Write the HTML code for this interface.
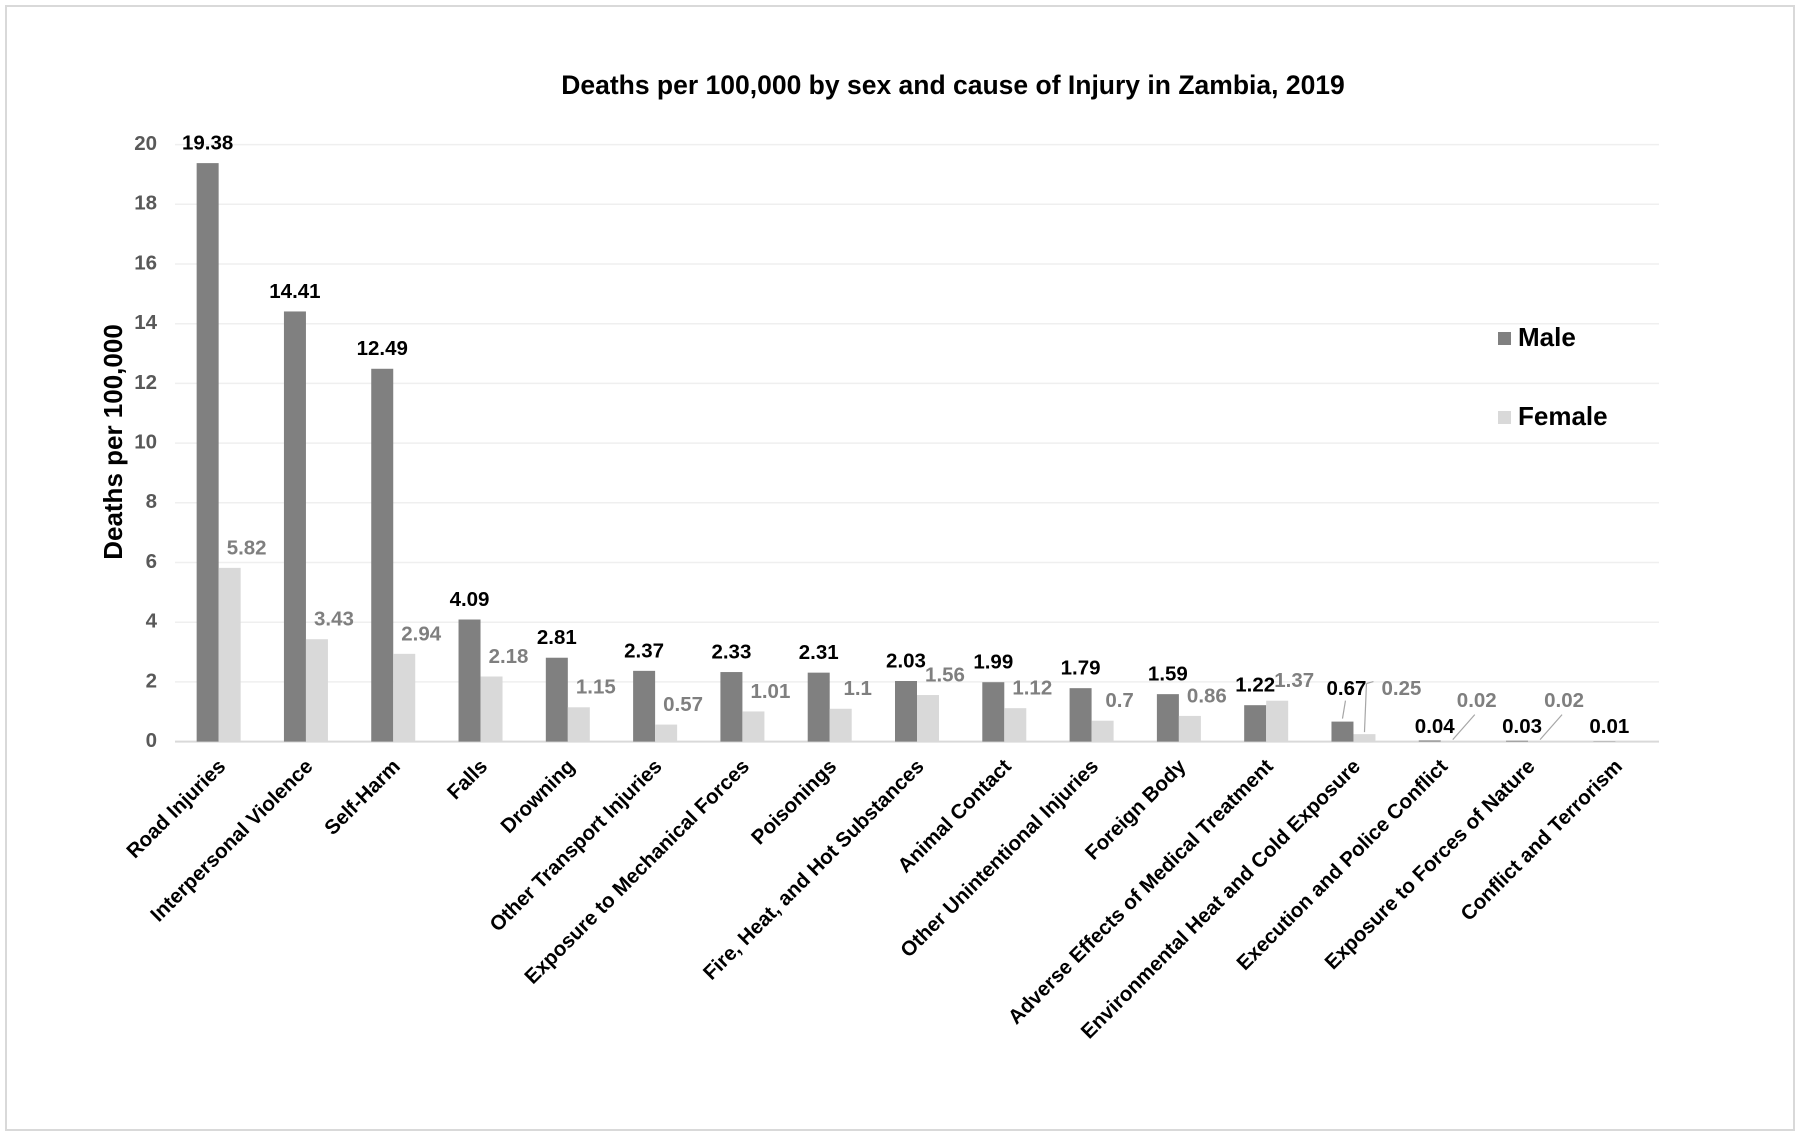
<!DOCTYPE html>
<html><head><meta charset="utf-8"><style>
html,body{margin:0;padding:0;background:#fff;}
svg text{font-family:"Liberation Sans",Arial,sans-serif;font-weight:bold;}
</style></head><body>
<svg id="chart" width="1800" height="1136" viewBox="0 0 1800 1136" xmlns="http://www.w3.org/2000/svg">
<rect x="6" y="6" width="1788" height="1124" fill="#fff" stroke="#d9d9d9" stroke-width="2"/>
<text x="953" y="87" font-size="26.5" text-anchor="middle" dominant-baseline="middle" fill="#000">Deaths per 100,000 by sex and cause of Injury in Zambia, 2019</text>
<text transform="translate(115,442) rotate(-90)" font-size="26" text-anchor="middle" dominant-baseline="middle" fill="#000">Deaths per 100,000</text>
<g id="grid"></g><g id="bars"></g><g id="labels"></g><g id="xlabels"></g>
<g>
<rect x="1498" y="332" width="13" height="13" fill="#808080"/>
<text x="1518" y="339" font-size="26" dominant-baseline="middle" fill="#000">Male</text>
<rect x="1498" y="411" width="13" height="13" fill="#d9d9d9"/>
<text x="1518" y="418" font-size="26" dominant-baseline="middle" fill="#000">Female</text>
</g>
</svg>
<script>
const categories=["Road Injuries","Interpersonal Violence","Self-Harm","Falls","Drowning","Other Transport Injuries","Exposure to Mechanical Forces","Poisonings","Fire, Heat, and Hot Substances","Animal Contact","Other Unintentional Injuries","Foreign Body","Adverse Effects of Medical Treatment","Environmental Heat and Cold Exposure","Execution and Police Conflict","Exposure to Forces of Nature","Conflict and Terrorism"];
const maleValues=[19.38,14.41,12.49,4.09,2.81,2.37,2.33,2.31,2.03,1.99,1.79,1.59,1.22,0.67,0.04,0.03,0.01];
const femaleValues=[5.82,3.43,2.94,2.18,1.15,0.57,1.01,1.1,1.56,1.12,0.7,0.86,1.37,0.25,0.02,0.02,null];
const yTicks=[0,2,4,6,8,10,12,14,16,18,20];
const NS="http://www.w3.org/2000/svg";
const X0=175,X1=1659,Y0=741.6,Y20=144.6,YMAX=20;
const step=(X1-X0)/categories.length;
function y(v){return Y0-(v/YMAX)*(Y0-Y20);}
function cx(i){return X0+step*(i+0.5);}
function mk(tag,attrs,parent){const e=document.createElementNS(NS,tag);for(const k in attrs)e.setAttribute(k,attrs[k]);parent.appendChild(e);return e;}
const grid=document.getElementById('grid'),bars=document.getElementById('bars'),labels=document.getElementById('labels'),xl=document.getElementById('xlabels');
yTicks.forEach(t=>{
  if(t>0){const l=mk('line',{x1:X0,x2:X1,y1:y(t),y2:y(t),stroke:'#efefef','stroke-width':1.5},grid);
  
  }
  const tx=mk('text',{x:157,y:y(t),'font-size':20.5,'text-anchor':'end','dominant-baseline':'middle',fill:'#595959'},grid);
  tx.textContent=t;
  
  
});
const ax=mk('line',{x1:X0,x2:X1,y1:Y0,y2:Y0,stroke:'#d9d9d9','stroke-width':2},grid);


const BW=22;
function leader(i,x1,y1,x2,y2){
  const ll=mk('line',{x1:x1,y1:y1,x2:x2,y2:y2,stroke:'#a6a6a6','stroke-width':1.2},labels);
  
  
}
categories.forEach((c,i)=>{
  const m=maleValues[i],f=femaleValues[i],c0=cx(i);
  const mb=mk('rect',{x:c0-BW,y:y(m),width:BW,height:Y0-y(m),fill:'#808080'},bars);
  
  
  if(f!=null){const fb=mk('rect',{x:c0,y:y(f),width:BW,height:Y0-y(f),fill:'#d9d9d9'},bars);
  
  }
  let mx=c0-BW/2,my=y(m)-19,fx=c0+BW/2+17,fy=f!=null?y(f)-19:0;
  if(m<0.1){mx=c0-6;my=Y0-14;fx=c0+36;fy=Y0-40;
    if(f!=null)leader(i,c0+12,Y0-2,c0+34,Y0-27);}
  else if(m<1){mx=c0-7;my=Y0-52;fx=c0+48;fy=my;
    leader(i,c0-11,y(m)-3,c0-8,my+11);
    leader(i,c0+11,y(f)-2,c0+13,my-6);
    leader(i,c0+13,my-6,c0+20,my-8);}
  const mt=mk('text',{x:mx,y:my,'font-size':20.5,'text-anchor':'middle','dominant-baseline':'middle',fill:'#000'},labels);
  mt.textContent=m;
  
  
  if(f!=null){const ft=mk('text',{x:fx,y:fy,'font-size':20.5,'text-anchor':'middle','dominant-baseline':'middle',fill:'#7f7f7f'},labels);
  ft.textContent=f;
  
  }
  const xt=mk('text',{transform:`translate(${c0+8},${Y0+26}) rotate(-45)`,'font-size':20.5,'text-anchor':'end',fill:'#000'},xl);
  xt.textContent=c;
  
  
});
</script>
</body></html>
